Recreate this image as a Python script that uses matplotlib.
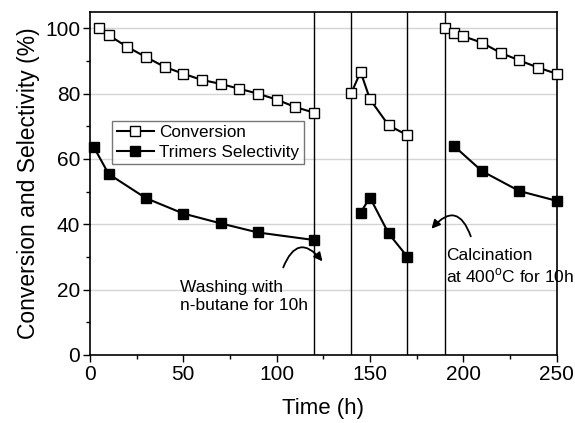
import matplotlib
matplotlib.use("Agg")
import matplotlib.pyplot as plt
from matplotlib.patches import FancyArrowPatch
from matplotlib.ticker import MultipleLocator

plt.rcParams['font.family'] = ['Liberation Sans', 'DejaVu Sans']

# Data
conv_t1 = [5, 10, 20, 30, 40, 50, 60, 70, 80, 90, 100, 110, 120]
conv_v1 = [100, 97.9, 94.3, 91.2, 88.2, 86.1, 84.2, 83.0, 81.5, 80.0, 78.2, 75.9, 74.2]
conv_t2 = [140, 145, 150, 160, 170]
conv_v2 = [80.2, 86.7, 78.3, 70.3, 67.3]
conv_t3 = [190, 195, 200, 210, 220, 230, 240, 250]
conv_v3 = [100, 98.6, 97.6, 95.6, 92.5, 90.2, 88.0, 86.1]

sel_t1 = [2, 10, 30, 50, 70, 90, 120]
sel_v1 = [63.7, 55.4, 48.0, 43.3, 40.3, 37.5, 35.2]
sel_t2 = [145, 150, 160, 170]
sel_v2 = [43.6, 48.2, 37.2, 30.1]
sel_t3 = [195, 210, 230, 250]
sel_v3 = [64.0, 56.3, 50.2, 47.2]

vlines = [120, 140, 170, 190]

fig = plt.figure(figsize=(5.75, 4.23), dpi=100)
ax = fig.add_axes([0.1565, 0.1608, 0.8115, 0.8108])

for y in [20, 40, 60, 80, 100]:
    ax.axhline(y, color='#d4d4d4', lw=1.0, zorder=0)
for x in vlines:
    ax.axvline(x, color='black', lw=1.0, zorder=1)

ms = 7.0
conv_style = dict(color='black', lw=1.5, marker='s', ms=ms, mfc='white', mec='black', mew=1.0, zorder=3)
sel_style = dict(color='black', lw=1.5, marker='s', ms=ms, mfc='black', mec='black', mew=1.0, zorder=3)

l1, = ax.plot(conv_t1, conv_v1, **conv_style, clip_on=False)
ax.plot(conv_t2, conv_v2, **conv_style, clip_on=False)
ax.plot(conv_t3, conv_v3, **conv_style, clip_on=False)
l2, = ax.plot(sel_t1, sel_v1, **sel_style, clip_on=False)
ax.plot(sel_t2, sel_v2, **sel_style, clip_on=False)
ax.plot(sel_t3, sel_v3, **sel_style, clip_on=False)

ax.set_xlim(0, 250)
ax.set_ylim(0, 105)
ax.xaxis.set_major_locator(MultipleLocator(50))
ax.xaxis.set_minor_locator(MultipleLocator(25))
ax.yaxis.set_major_locator(MultipleLocator(20))
ax.yaxis.set_minor_locator(MultipleLocator(10))
ax.tick_params(axis='both', which='major', labelsize=15, direction='out', length=5, width=1, pad=2)
ax.tick_params(axis='both', which='minor', direction='out', length=3, width=1)
for s in ax.spines.values():
    s.set_linewidth(1.2)

ax.set_xlabel('Time (h)', fontsize=16, labelpad=10)
ax.set_ylabel('Conversion and Selectivity (%)', fontsize=16.5, labelpad=4)

leg = ax.legend([l1, l2], ['Conversion', 'Trimers Selectivity'], loc='upper left',
                bbox_to_anchor=(0.048, 0.682), fontsize=12.3, frameon=True, fancybox=False,
                edgecolor='#555555', handlelength=2.2, borderpad=0.25, labelspacing=0.25,
                handletextpad=0.3, borderaxespad=0)
leg.get_frame().set_linewidth(1.0)

ax.text(48, 18, 'Washing with\nn-butane for 10h', fontsize=12.5, ha='left', va='center', linespacing=1.25)
ax.text(191, 27, 'Calcination\nat 400$^{\\mathregular{o}}$C for 10h', fontsize=12.5, ha='left', va='center', linespacing=1.25)

a1 = FancyArrowPatch((103, 26), (125.5, 28), connectionstyle='arc3,rad=-0.9',
                     arrowstyle='-|>,head_length=5,head_width=2.5', color='black', lw=1.3, mutation_scale=1)
ax.add_patch(a1)
a2 = FancyArrowPatch((204.5, 35.5), (182, 38), connectionstyle='arc3,rad=0.9',
                     arrowstyle='-|>,head_length=5,head_width=2.5', color='black', lw=1.3, mutation_scale=1)
ax.add_patch(a2)

fig.savefig('out.png', dpi=100)
